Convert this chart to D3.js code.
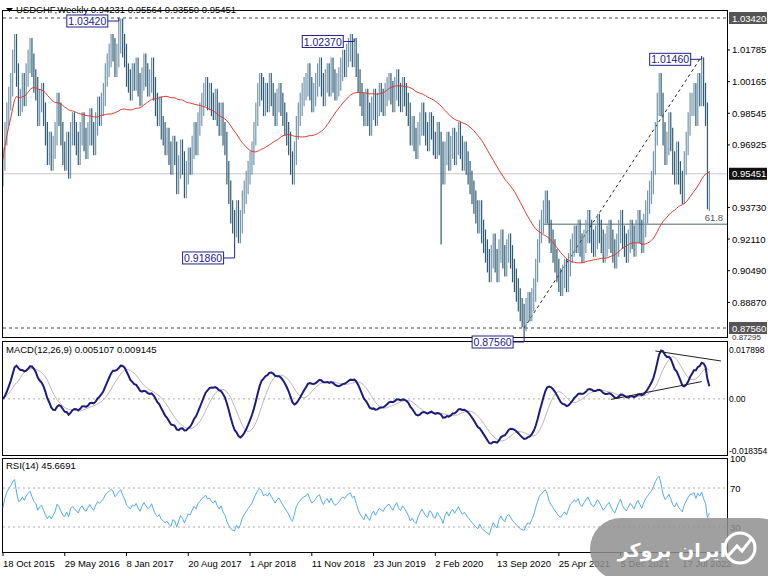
<!DOCTYPE html>
<html><head><meta charset="utf-8">
<script src="https://cdn.jsdelivr.net/npm/d3@7"></script>
<style>body{margin:0;background:#fff}svg{display:block}</style>
</head><body>
<svg width="768" height="576"></svg>
<script>
// weekly closes USDCHF
const closes = [
  0.962,0.975,0.985,0.993,1.000,1.012,1.020,
  1.005,0.990,0.992,1.000,0.995,1.005,1.012,1.018,1.010,1.002,0.998,
  0.985,0.992,0.995,0.985,0.975,0.965,0.970,0.962,0.968,0.975,
  0.990,0.985,0.975,0.965,0.962,0.970,0.958,0.975,0.980,0.975,0.970,0.965,0.975,0.980,0.972,0.968,0.975,0.982,0.975,0.970,0.980,0.988,0.985,
  0.990,0.995,1.005,1.010,1.015,1.020,1.018,1.010,1.015,1.022,1.028,
  1.020,1.015,1.005,1.002,0.998,1.005,1.003,1.008,1.000,0.995,1.003,1.010,1.005,1.000,1.002,1.008,0.998,0.990,0.985,0.988,
  0.978,0.975,0.970,0.972,0.965,0.960,0.968,0.965,0.950,0.958,0.966,0.960,0.948,0.955,0.962,0.960,0.968,0.975,0.970,0.980,
  0.985,0.990,0.995,0.998,0.993,0.995,0.990,0.988,0.992,0.985,0.980,0.985,0.975,0.970,
  0.955,0.945,0.935,0.930,0.928,0.935,0.925,0.930,
  0.940,0.945,0.950,0.955,0.960,0.965,0.975,0.985,
  0.995,1.000,0.998,0.990,0.995,0.992,1.000,0.995,0.990,0.985,0.992,0.995,0.990,0.985,0.980,0.975,0.970,0.960,0.955,
  0.965,0.978,0.985,0.990,0.995,0.998,1.000,1.005,0.998,0.992,0.995,1.000,1.005,1.008,1.000,0.995,1.002,1.005,1.000,1.008,
  1.002,0.998,1.000,1.003,1.008,1.012,1.010,1.015,1.018,1.020,1.015,1.018,1.010,1.002,0.995,
  0.990,0.985,0.992,0.985,0.980,0.988,0.992,0.985,0.990,0.995,0.992,0.990,
  0.995,0.998,1.000,0.996,0.992,0.998,1.002,0.995,0.992,0.998,0.995,0.990,0.985,0.975,0.978,0.972,
  0.968,0.975,0.980,0.985,0.980,0.975,0.972,0.980,0.978,0.970,0.968,0.975,0.970,0.965,
  0.955,
  0.965,0.970,0.962,0.968,0.972,0.965,0.970,0.975,0.968,0.962,0.965,0.960,0.955,0.950,
  0.945,0.940,0.935,0.930,0.935,0.925,0.920,0.915,
  0.910,0.905,0.912,0.918,0.910,0.905,0.915,0.920,0.912,0.908,0.915,0.918,0.912,0.905,0.900,
  0.895,0.890,0.885,0.882,0.880,0.885,0.888,0.885,
  0.890,0.895,0.905,0.915,0.925,0.930,0.935,0.940,0.935,0.925,
  0.920,0.915,0.910,0.905,0.900,0.898,0.902,0.905,0.900,0.908,0.915,
  0.918,0.922,0.920,0.925,0.918,0.915,0.920,0.925,0.930,0.925,0.920,0.918,0.922,0.928,0.925,
  0.920,0.915,0.918,0.922,0.925,0.920,0.915,0.912,0.918,0.925,0.930,0.922,0.918,0.915,0.920,0.925,0.922,0.918,0.925,0.930,0.925,0.920,0.928,
  0.935,0.940,0.945,0.950,0.960,0.975,
  0.990,1.000,0.990,0.975,0.965,0.970,0.980,
  0.972,0.960,0.955,0.965,0.955,0.950,0.945,0.960,0.970,0.980,0.990,
  0.990,0.995,0.985,1.000,0.995,1.008,
  0.995,0.985,0.94231,0.95451
];
// labelled extremes: [bar index, price, "high"/"low"]
const extremes = [[60,1.0342,"high"],[120,0.9186,"low"],[182,1.0237,"high"],[227,0.9183,"low"],[270,0.8756,"low"],[362,1.0146,"high"]];
const lastBar = {o:0.94231, h:0.95564, l:0.93550, c:0.95451};
const priceTicks = [1.01785,1.00165,0.98545,0.96925,0.93730,0.92110,0.90490,0.88870];
const priceLabels = [["1.03420",60,1.0342],["1.02370",182,1.0237],["0.91860",120,0.9186],["0.87560",270,0.8756],["1.01460",362,1.0146]];
const dateLabels = [[0,"18 Oct 2015"],[32,"29 May 2016"],[64,"8 Jan 2017"],[96,"20 Aug 2017"],[128,"1 Apr 2018"],[160,"11 Nov 2018"],[192,"23 Jun 2019"],[224,"2 Feb 2020"],[256,"13 Sep 2020"],[288,"25 Apr 2021"],[320,"5 Dec 2021"],[352,"17 Jul 2022"]];
const macdTicks = [0.017898, 0.0, -0.018354];
const rsiTicks = [100, 70, 30];
const wick = 0.006;
const maPeriod = 50;

const N = closes.length;
const bars = closes.map((c, i) => {
  const o = i ? closes[i-1] : c - 0.008;
  let h = Math.max(o, c) + wick, l = Math.min(o, c) - wick;
  return {i, o, h, l, c};
});
extremes.forEach(([i, p, k]) => { if (k === "high") bars[i].h = p; else bars[i].l = p; });
Object.assign(bars[N-1], lastBar);

// indicators
function ema(a, n) { const k = 2/(n+1); const r = []; a.forEach((v,i) => r.push(i ? r[i-1] + k*(v-r[i-1]) : v)); return r; }
const ma = closes.map((v,i) => d3.mean(closes.slice(Math.max(0,i-maPeriod+1), i+1)));
const e12 = ema(closes,12), e26 = ema(closes,26);
const macd = closes.map((v,i) => e12[i]-e26[i]);
const signal = macd.map((v,i) => d3.mean(macd.slice(Math.max(0,i-8), i+1)));
const rsi = []; let ag = 0, al = 0;
closes.forEach((c,i) => {
  const d = i ? c - closes[i-1] : 0;
  const g = Math.max(d,0), l = Math.max(-d,0);
  if (i === 0) { ag = 0.002; al = 0.002; } else { ag = (ag*13+g)/14; al = (al*13+l)/14; }
  rsi.push(100 - 100/(1 + ag/al));
});

const svg = d3.select("svg");
const font = "'Liberation Sans', Arial, sans-serif";
const fs = 9.5;
const x = d3.scaleLinear().domain([0, N-1]).range([3, 3 + 1.93*(N-1)]);
const y = d3.scaleLinear().domain([0.8756, 1.0342]).range([328, 18]);
const ym = d3.scaleLinear().domain([-0.018354, 0.017898]).range([450, 349]);
const yr = d3.scaleLinear().domain([30, 70]).range([527, 488]);
const R = 727;

// panels
[[10,337],[341,455],[458,552]].forEach(([t,b]) =>
  svg.append("rect").attr("x",2.5).attr("y",t+0.5).attr("width",R-2).attr("height",b-t)
    .attr("fill","none").attr("stroke","#000").attr("stroke-width",1));

const main = svg.append("g");
main.append("clipPath").attr("id","cm").append("rect").attr("x",3).attr("y",11).attr("width",R-3).attr("height",326);
main.attr("clip-path","url(#cm)");

// horizontal reference lines
[1.0342, 0.8756].forEach(p => main.append("line").attr("x1",3).attr("x2",R).attr("y1",y(p)).attr("y2",y(p))
  .attr("stroke","#444").attr("stroke-dasharray","3,3"));
main.append("line").attr("x1",3).attr("x2",R).attr("y1",y(0.95451)).attr("y2",y(0.95451)).attr("stroke","#c8c8c8");
const fib = 1.0146 - 0.618*(1.0146-0.8756);
main.append("line").attr("x1",x(280)).attr("x2",R).attr("y1",y(fib)).attr("y2",y(fib)).attr("stroke","#8a9a9a").attr("stroke-width",1.5);
main.append("line").attr("x1",x(270)).attr("y1",y(0.8756)).attr("x2",x(362)).attr("y2",y(1.0146))
  .attr("stroke","#222").attr("stroke-dasharray","3,3");

// OHLC bars
main.selectAll("line.bar").data(bars).enter().append("line").attr("class","bar")
  .attr("x1",d => x(d.i)).attr("x2",d => x(d.i)).attr("y1",d => y(d.h)).attr("y2",d => y(d.l))
  .attr("stroke",d => d.c >= d.o ? "#7497ad" : "#2d5b75").attr("stroke-width",1.2);

// moving average
main.append("path").datum(ma).attr("fill","none").attr("stroke","#e0392f").attr("stroke-width",1)
  .attr("d", d3.line().x((d,i) => x(i)).y(d => y(d)));

// price labels
priceLabels.forEach(([t,i,p]) => {
  const low = p < 0.95;
  const bx = x(i) - 52, by = y(p) + (low ? 8 : -3);
  svg.append("path").attr("d",`M${bx+41},${by+6}H${x(i)}V${y(p)}`).attr("fill","none").attr("stroke","#22228a");
  svg.append("rect").attr("x",bx).attr("y",by).attr("width",41).attr("height",12)
    .attr("fill","#fff").attr("stroke","#22228a");
  svg.append("text").attr("x",bx+20.5).attr("y",by+10).attr("text-anchor","middle")
    .attr("font-family",font).attr("font-size",10.5).attr("fill","#22228a").text(t);
});
svg.append("text").attr("x",x(362)+3).attr("y",y(fib)-3).attr("font-family",font).attr("font-size",fs).attr("fill","#555").text("61.8");

// right price axis
const ax = svg.append("g").attr("font-family",font).attr("font-size",fs);
priceTicks.forEach(p => {
  ax.append("line").attr("x1",R).attr("x2",R+3).attr("y1",y(p)).attr("y2",y(p)).attr("stroke","#000");
  ax.append("text").attr("x",R+5).attr("y",y(p)+3.5).text(p.toFixed(5));
});
[[1.0342,"#555"],[0.95451,"#111"],[0.8756,"#555"]].forEach(([p,c]) => {
  ax.append("rect").attr("x",R+2).attr("y",y(p)-6).attr("width",38).attr("height",12).attr("fill",c);
  ax.append("text").attr("x",R+5).attr("y",y(p)+3.5).attr("fill","#fff").text(p.toFixed(5));
});
ax.append("text").attr("x",R+5).attr("y",340).attr("fill","#333").attr("font-size",8).text("0.87295");

// header
svg.append("path").attr("d","M6,8 h7 l-3.5,4 z").attr("fill","#000");
svg.append("text").attr("x",16).attr("y",12.5).attr("font-family",font).attr("font-size",fs)
  .text("USDCHF,Weekly  0.94231 0.95564 0.93550 0.95451");

// MACD
const mg = svg.append("g");
mg.append("clipPath").attr("id","cmacd").append("rect").attr("x",3).attr("y",342).attr("width",R-3).attr("height",113);
mg.attr("clip-path","url(#cmacd)");
mg.append("line").attr("x1",3).attr("x2",R).attr("y1",ym(0)).attr("y2",ym(0)).attr("stroke","#aaa").attr("stroke-dasharray","2,3");
mg.append("path").datum(signal).attr("fill","none").attr("stroke","#b8b8b8").attr("stroke-width",1)
  .attr("d", d3.line().x((d,i) => x(i)).y(d => ym(d)));
mg.append("path").datum(macd).attr("fill","none").attr("stroke","#1c1c7e").attr("stroke-width",2)
  .attr("d", d3.line().x((d,i) => x(i)).y(d => ym(d)));
// trend lines on MACD
const macdLines = [[[338,0.0172],[372,0.0136]],[[315,-0.0002],[362,0.0062]]];
macdLines.forEach(l => mg.append("line").attr("x1",x(l[0][0])).attr("y1",ym(l[0][1])).attr("x2",x(l[1][0])).attr("y2",ym(l[1][1])).attr("stroke","#222"));
svg.append("text").attr("x",6).attr("y",353).attr("font-family",font).attr("font-size",fs)
  .text("MACD(12,26,9) 0.005107 0.009145");
macdTicks.forEach(v => svg.append("text").attr("x",R+2).attr("y",ym(v)+3.5).attr("font-family",font).attr("font-size",8.5)
  .text(v === 0 ? "0.00" : v.toFixed(6)));

// RSI
const rg = svg.append("g");
[70,30].forEach(v => rg.append("line").attr("x1",3).attr("x2",R).attr("y1",yr(v)).attr("y2",yr(v)).attr("stroke","#aaa").attr("stroke-dasharray","2,3"));
rg.append("path").datum(rsi).attr("fill","none").attr("stroke","#3fa2e8").attr("stroke-width",0.9)
  .attr("d", d3.line().x((d,i) => x(i)).y(d => yr(d)));
svg.append("text").attr("x",6).attr("y",469).attr("font-family",font).attr("font-size",fs).text("RSI(14) 45.6691");
rsiTicks.forEach(v => svg.append("text").attr("x",R+3).attr("y",yr(v)+3.5).attr("font-family",font).attr("font-size",fs).text(v));

// date axis
dateLabels.forEach(([i,t]) => {
  svg.append("line").attr("x1",x(i)).attr("x2",x(i)).attr("y1",552).attr("y2",556).attr("stroke","#000");
  svg.append("text").attr("x",x(i)).attr("y",567).attr("font-family",font).attr("font-size",fs).text(t);
});

// watermark
const wm = svg.append("g");
wm.append("rect").attr("x",590).attr("y",518).attr("width",200).attr("height",62).attr("rx",31).attr("fill","#8f8f8f").attr("opacity",0.85);
wm.append("text").attr("x",672).attr("y",557).attr("text-anchor","middle").attr("font-family","'DejaVu Sans', sans-serif")
  .attr("font-weight","bold").attr("font-size",19).attr("fill","#fff").text("ایران بروکر");
wm.append("circle").attr("cx",740).attr("cy",548).attr("r",15).attr("fill","none").attr("stroke","#fff").attr("stroke-width",3);
wm.append("path").attr("d","M728,556 L737,546 L742,551 L752,538").attr("fill","none").attr("stroke","#fff").attr("stroke-width",3);
</script>
</body></html>
